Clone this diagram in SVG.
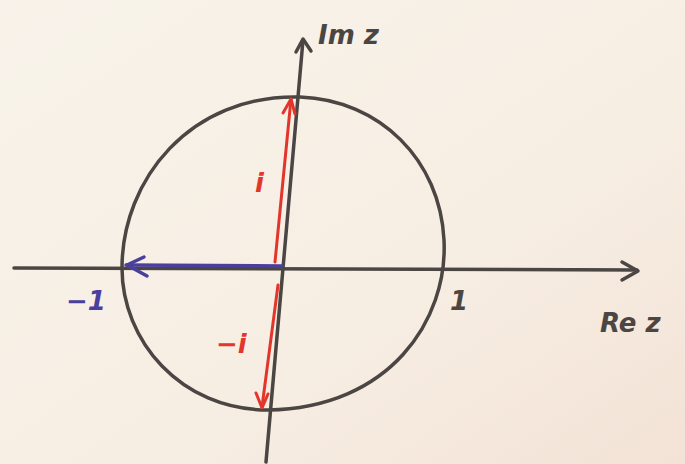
<svg xmlns="http://www.w3.org/2000/svg" width="685" height="464" viewBox="0 0 685 464">
<defs>
<linearGradient id="bg" x1="0" y1="0" x2="1" y2="1">
<stop offset="0" stop-color="#f8f3ea"/>
<stop offset="0.6" stop-color="#f7eee3"/>
<stop offset="1" stop-color="#f3e2d6"/>
</linearGradient>
<style>
.ink{fill:none;stroke:#4b4643;stroke-width:3.5;stroke-linecap:round;stroke-linejoin:round}
.red{fill:none;stroke:#e2362c;stroke-width:3;stroke-linecap:round;stroke-linejoin:round}
.blue{fill:none;stroke:#4a3f9c;stroke-width:3.5;stroke-linecap:round;stroke-linejoin:round}
.lbl{font-family:"DejaVu Sans",sans-serif;font-weight:bold;font-style:italic;font-size:26px}
.dark{fill:#4b4643}
.r{fill:#e2362c}
.b{fill:#4a3f9c}
</style>
</defs>
<rect width="685" height="464" fill="url(#bg)"/>
<g id="circle">
<path class="ink" d="M300,97 C380,100 440,160 444,240 C448,320 390,408 268,410 C180,410 122,340 122,268 C122,180 190,94 300,97"/>
</g>
<g id="connectors">
<g id="real-axis">
<path class="ink" d="M14,268 L637,270"/>
<path class="ink" d="M622,262 L638,271 L622,280"/>
</g>
<g id="imag-axis">
<path class="ink" d="M266,462 L303,40"/>
<path class="ink" d="M296,52 L303,39 L311,51"/>
</g>
<g id="arrow-i">
<path class="red" d="M275,262 L291,99"/>
<path class="red" d="M283,113 L291,99 L295,114"/>
</g>
<g id="arrow-minus-i">
<path class="red" d="M278,285 L262,407"/>
<path class="red" d="M256,393 L262,408 L268,394"/>
</g>
<g id="arrow-minus-1">
<path class="blue" d="M282,266 L126,265"/>
<path class="blue" d="M144,257 L127,265 L147,276"/>
</g>
</g>
<g id="labels">
<text class="lbl dark" x="318" y="44">Im z</text>
<text class="lbl dark" x="600" y="332">Re z</text>
<text class="lbl dark" x="450" y="310">1</text>
<text class="lbl b" x="66" y="310">−1</text>
<text class="lbl r" x="255" y="192">i</text>
<text class="lbl r" x="216" y="353">−i</text>
</g>
</svg>
